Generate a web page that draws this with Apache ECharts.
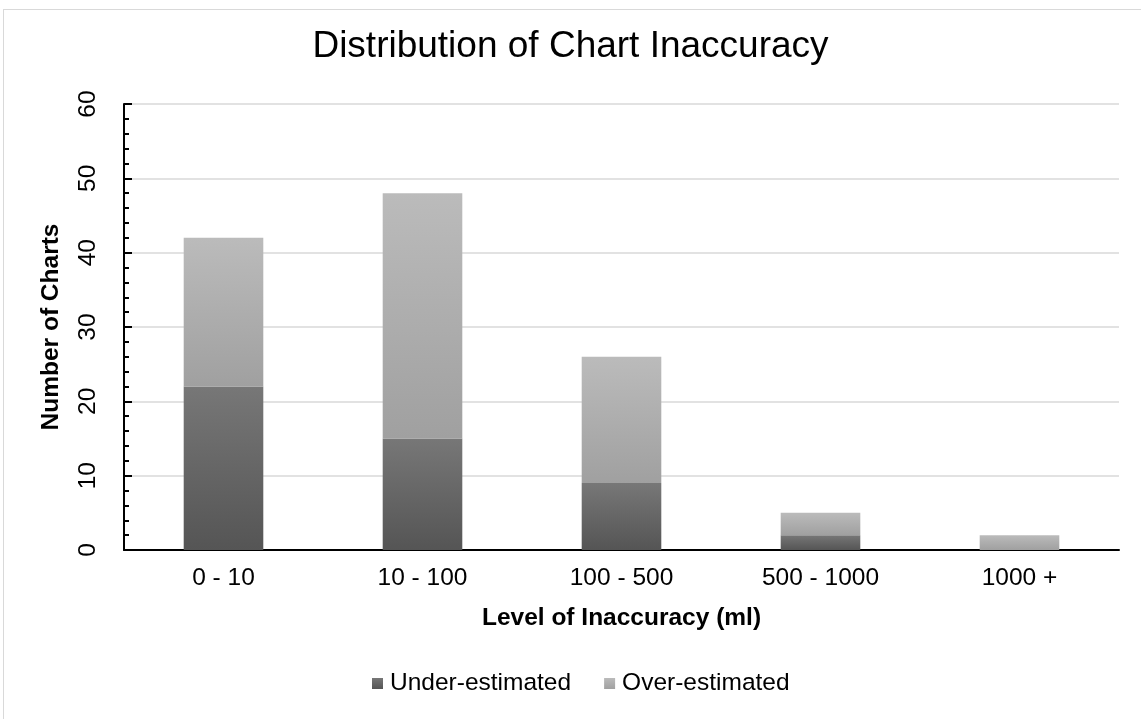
<!DOCTYPE html>
<html><head><meta charset="utf-8">
<script src="https://cdn.jsdelivr.net/npm/echarts@6/dist/echarts.min.js"></script>
<style>html,body{margin:0;padding:0;background:#fff}#c{width:1141px;height:719px;position:relative}
#frame{position:absolute;left:3px;top:9px;width:1160px;height:720px;border:1px solid #d9d9d9;box-sizing:border-box;pointer-events:none}</style>
</head><body><div id="c"></div><div id="frame"></div>
<script>
const categories = ['0 - 10', '10 - 100', '100 - 500', '500 - 1000', '1000 +'];
const underEstimated = [22, 15, 9, 2, 0];
const overEstimated = [20, 33, 17, 3, 2];
const yTicks = [0, 10, 20, 30, 40, 50, 60];

const grad = (a, b) => new echarts.graphic.LinearGradient(0, 0, 0, 1, [{offset: 0, color: a}, {offset: 1, color: b}]);
const font = 'Liberation Sans, Arial, sans-serif';
const chart = echarts.init(document.getElementById('c'));
chart.setOption({
  animation: false,
  textStyle: {fontFamily: font},
  title: {text: 'Distribution of Chart Inaccuracy', left: 'center', top: 23,
    textStyle: {fontSize: 37, fontWeight: 'normal', color: '#000', fontFamily: font}},
  legend: {bottom: 18, left: 367, itemWidth: 11, itemHeight: 11, itemGap: 33, icon: 'rect',
    textStyle: {fontSize: 24.5, color: '#000', fontFamily: font, padding: [0, 0, 0, 2]},
    data: [{name: 'Under-estimated', itemStyle: {color: grad('#777', '#555')}},
           {name: 'Over-estimated', itemStyle: {color: grad('#bbb', '#a0a0a0')}}]},
  grid: {left: 124, right: 22, top: 104, bottom: 169, containLabel: false},
  xAxis: {type: 'category', data: categories,
    axisLine: {lineStyle: {color: '#000', width: 2}},
    axisTick: {show: false},
    axisLabel: {fontSize: 24.5, color: '#000', margin: 16, fontFamily: font},
    name: 'Level of Inaccuracy (ml)', nameLocation: 'middle', nameGap: 56,
    nameTextStyle: {fontSize: 24.5, fontWeight: 'bold', color: '#000', fontFamily: font}},
  yAxis: {type: 'value', min: yTicks[0], max: yTicks[yTicks.length - 1], interval: 10,
    axisLine: {show: true, lineStyle: {color: '#000', width: 2}},
    axisTick: {show: true, inside: true, length: 8, lineStyle: {color: '#000', width: 2}},
    minorTick: {show: true, splitNumber: 5, length: 5, lineStyle: {color: '#000', width: 2}},
    splitLine: {lineStyle: {color: '#d9d9d9', width: 1.5}},
    axisLabel: {rotate: 90, fontSize: 24.5, color: '#000', margin: 23, fontFamily: font},
    name: 'Number of Charts', nameLocation: 'middle', nameGap: 60, nameRotate: 90,
    nameTextStyle: {fontSize: 24.5, fontWeight: 'bold', color: '#000', fontFamily: font}},
  series: [
    {name: 'Under-estimated', type: 'bar', stack: 's', barWidth: '40%', data: underEstimated,
     itemStyle: {color: grad('#777', '#555')}},
    {name: 'Over-estimated', type: 'bar', stack: 's', barWidth: '40%', data: overEstimated,
     itemStyle: {color: grad('#bbb', '#a0a0a0')}}
  ]
});
</script></body></html>
